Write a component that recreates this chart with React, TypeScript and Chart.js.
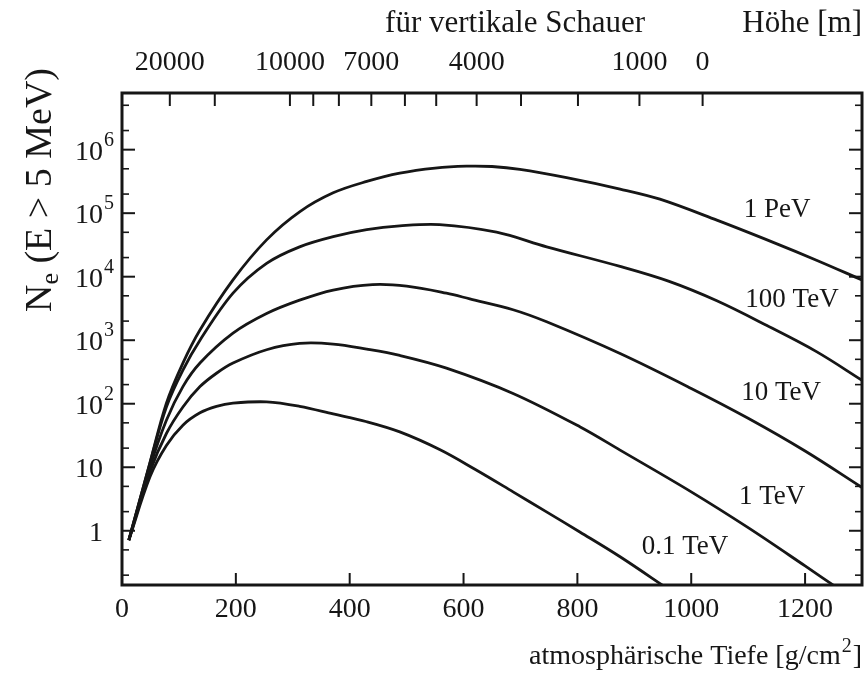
import React, { useEffect, useRef } from 'react';
import { Chart, registerables } from 'chart.js';

Chart.register(...registerables);

// ---- axes ----
const depthTicks = [0, 200, 400, 600, 800, 1000, 1200];
const altitudeTickHeights = [20000, 15000, 10000, 9000, 8000, 7000, 6000, 5000, 4000, 3000, 2000, 1000, 0];
const altitudeTickDepths = [84, 163, 295, 336, 381, 438, 497, 552, 623, 701, 801, 909, 1020];
const altitudeLabeled = [20000, 10000, 7000, 4000, 1000, 0];
const yDecadeValues = [1, 10, 100, 1000, 10000, 100000, 1000000];
const yDecadeExponents = [0, 1, 2, 3, 4, 5, 6];
const yMinorValues = [0.2, 0.5, 2, 5, 20, 50, 200, 500, 2000, 5000, 20000, 50000, 200000, 500000, 2000000, 5000000];

// ---- series ----
const seriesNames = ['0.1 TeV', '1 TeV', '10 TeV', '100 TeV', '1 PeV'];

const depth01TeV = [12, 49, 78, 107, 137, 166, 195, 254, 312, 371, 430, 488, 558, 620, 687, 745, 805, 875, 960];
const ne01TeV = [0.71, 7, 22, 46, 72, 91, 102, 107, 91, 69, 52, 36, 19, 9.3, 4.1, 2.0, 0.95, 0.39, 0.12];

const depth1TeV = [12, 49, 78, 107, 137, 166, 195, 254, 312, 371, 430, 488, 570, 687, 805, 875, 1000, 1100, 1200, 1260];
const ne1TeV = [0.71, 8.5, 34, 89, 186, 302, 437, 708, 891, 871, 724, 575, 363, 145, 43, 18.6, 4.1, 1.12, 0.28, 0.12];

const depth10TeV = [12, 49, 78, 107, 137, 195, 254, 312, 371, 440, 500, 570, 611, 687, 746, 875, 1000, 1100, 1200, 1300];
const ne10TeV = [0.71, 10, 55, 186, 437, 1290, 2630, 4270, 6170, 7500, 7100, 5500, 4470, 3020, 1950, 617, 174, 59, 18, 4.8];

const depth100TeV = [12, 49, 78, 107, 137, 195, 254, 312, 371, 430, 488, 558, 658, 746, 875, 960, 1045, 1133, 1220, 1300];
const ne100TeV = [0.71, 11.5, 89, 339, 1000, 5500, 16200, 29500, 42700, 55000, 63100, 66100, 50100, 29500, 14500, 8500, 4170, 1700, 661, 234];

const depth1PeV = [12, 49, 78, 107, 137, 195, 254, 312, 371, 430, 488, 550, 605, 650, 699, 781, 875, 945, 1045, 1144, 1220, 1300];
const ne1PeV = [0.71, 11.7, 102, 437, 1450, 8900, 38000, 105000, 209000, 316000, 427000, 513000, 550000, 543000, 490000, 363000, 240000, 166000, 77600, 34700, 18200, 8900];

const seriesDepths = [depth01TeV, depth1TeV, depth10TeV, depth100TeV, depth1PeV];
const seriesNe = [ne01TeV, ne1TeV, ne10TeV, ne100TeV, ne1PeV];

// curve label anchors (data coordinates)
const labelDepths = [989, 1142, 1158, 1177, 1151];
const labelNe = [0.55, 3.4, 148, 4270, 112000];

const SERIF = "'Liberation Serif', 'Times New Roman', serif";
const INK = '#161616';

const decorPlugin = {
  id: 'decor',
  afterDraw(chart: any) {
    const ctx = chart.ctx as CanvasRenderingContext2D;
    const { left, right, top, bottom } = chart.chartArea;
    const x = chart.scales.x;
    const x2 = chart.scales.x2;
    const y = chart.scales.y;
    ctx.save();
    ctx.strokeStyle = INK;
    ctx.fillStyle = INK;

    const seg = (a: number, b: number, c: number, d: number) => {
      ctx.beginPath();
      ctx.moveTo(a, b);
      ctx.lineTo(c, d);
      ctx.stroke();
    };

    // inward ticks
    ctx.lineWidth = 2;
    depthTicks.forEach((v) => {
      const px = x.getPixelForValue(v);
      seg(px, bottom, px, bottom - 12);
    });
    altitudeTickDepths.forEach((v) => {
      const px = x2.getPixelForValue(v);
      seg(px, top, px, top + 13);
    });
    yDecadeValues.forEach((v) => {
      const py = y.getPixelForValue(v);
      seg(left, py, left + 13, py);
      seg(right, py, right - 13, py);
    });
    ctx.lineWidth = 1.6;
    yMinorValues.forEach((v) => {
      const py = y.getPixelForValue(v);
      if (py < top + 2 || py > bottom - 2) return;
      seg(left, py, left + 7, py);
      seg(right, py, right - 7, py);
    });

    // frame
    ctx.lineWidth = 3;
    ctx.strokeRect(left, top, right - left, bottom - top);

    // y tick labels with superscripts
    ctx.textBaseline = 'alphabetic';
    yDecadeValues.forEach((v, i) => {
      const py = y.getPixelForValue(v);
      const e = yDecadeExponents[i];
      ctx.font = `28px ${SERIF}`;
      ctx.textAlign = 'right';
      const base = e === 0 ? '1' : '10';
      ctx.fillText(base, 103, py + 10);
      if (e >= 2) {
        ctx.font = `20px ${SERIF}`;
        ctx.textAlign = 'left';
        ctx.fillText(String(e), 104, py - 4);
      }
    });

    // curve labels
    ctx.font = `27px ${SERIF}`;
    ctx.textAlign = 'center';
    ctx.textBaseline = 'middle';
    seriesNames.forEach((name, i) => {
      ctx.fillText(name, x.getPixelForValue(labelDepths[i]), y.getPixelForValue(labelNe[i]));
    });

    // bottom title with superscript
    ctx.textBaseline = 'alphabetic';
    ctx.textAlign = 'left';
    const t1 = 'atmosphärische Tiefe [g/cm';
    const t2 = '2';
    const t3 = ']';
    ctx.font = `28px ${SERIF}`;
    const w1 = ctx.measureText(t1).width;
    const w3 = ctx.measureText(t3).width;
    ctx.font = `20px ${SERIF}`;
    const w2 = ctx.measureText(t2).width;
    const sx = right - (w1 + w2 + w3 + 2);
    const by = 664;
    ctx.font = `28px ${SERIF}`;
    ctx.fillText(t1, sx, by);
    ctx.font = `20px ${SERIF}`;
    ctx.fillText(t2, sx + w1 + 1, by - 12);
    ctx.font = `28px ${SERIF}`;
    ctx.fillText(t3, sx + w1 + w2 + 2, by);

    // top title
    ctx.font = `31px ${SERIF}`;
    ctx.textAlign = 'right';
    ctx.fillText('Höhe [m]', right, 32);
    ctx.fillText('für vertikale Schauer', 645, 32);

    // y title rotated with subscript
    ctx.translate(41, 190);
    ctx.rotate(-Math.PI / 2);
    ctx.textAlign = 'left';
    ctx.textBaseline = 'middle';
    ctx.font = `38px ${SERIF}`;
    const a = 'N';
    const b = 'e';
    const c = ' (E > 5 MeV)';
    const wa = ctx.measureText(a).width;
    const wc = ctx.measureText(c).width;
    ctx.font = `26px ${SERIF}`;
    const wb = ctx.measureText(b).width;
    const total = wa + wb + wc;
    const cx = -total / 2;
    ctx.font = `38px ${SERIF}`;
    ctx.fillText(a, cx, 0);
    ctx.font = `26px ${SERIF}`;
    ctx.fillText(b, cx + wa, 10);
    ctx.font = `38px ${SERIF}`;
    ctx.fillText(c, cx + wa + wb, 0);

    ctx.restore();
  },
};

export default function App() {
  const ref = useRef<HTMLCanvasElement | null>(null);

  useEffect(() => {
    if (!ref.current) return;
    const datasets = seriesNames.map((name, i) => ({
      label: name,
      data: seriesDepths[i].map((d, j) => ({ x: d, y: seriesNe[i][j] })),
      borderColor: INK,
      borderWidth: 2.8,
      pointRadius: 0,
      fill: false,
      tension: 0.35,
    }));

    const chart = new Chart(ref.current, {
      type: 'line',
      data: { datasets },
      options: {
        animation: false,
        responsive: false,
        layout: { padding: { left: 0, right: 5, top: 0, bottom: 0 } },
        plugins: { legend: { display: false }, tooltip: { enabled: false } },
        scales: {
          x: {
            type: 'linear',
            position: 'bottom',
            min: 0,
            max: 1300,
            afterBuildTicks: (s: any) => {
              s.ticks = depthTicks.map((v) => ({ value: v }));
            },
            afterFit: (s: any) => {
              s.height = 92;
            },
            ticks: {
              autoSkip: false,
              maxRotation: 0,
              padding: 8,
              color: INK,
              font: { family: SERIF, size: 28 },
              callback: (v: any) => String(v),
            },
            grid: { display: false, drawTicks: false },
            border: { display: false },
          },
          x2: {
            type: 'linear',
            position: 'top',
            min: 0,
            max: 1300,
            afterBuildTicks: (s: any) => {
              s.ticks = altitudeTickDepths.map((v) => ({ value: v }));
            },
            afterFit: (s: any) => {
              s.height = 93;
            },
            ticks: {
              autoSkip: false,
              maxRotation: 0,
              padding: 14,
              color: INK,
              font: { family: SERIF, size: 28 },
              callback: (_v: any, i: number) => {
                const h = altitudeTickHeights[i];
                return altitudeLabeled.includes(h) ? String(h) : '';
              },
            },
            grid: { display: false, drawTicks: false },
            border: { display: false },
          },
          y: {
            type: 'logarithmic',
            position: 'left',
            min: 0.14,
            max: 7.8e6,
            afterFit: (s: any) => {
              s.width = 122;
            },
            ticks: { display: false },
            grid: { display: false, drawTicks: false },
            border: { display: false },
          },
        },
      },
      plugins: [decorPlugin],
    });
    return () => chart.destroy();
  }, []);

  return (
    <div style={{ position: 'fixed', left: 0, top: 0, width: 867, height: 677, background: '#fff' }}>
      <canvas ref={ref} width={867} height={677} style={{ width: 867, height: 677 }} />
    </div>
  );
}
